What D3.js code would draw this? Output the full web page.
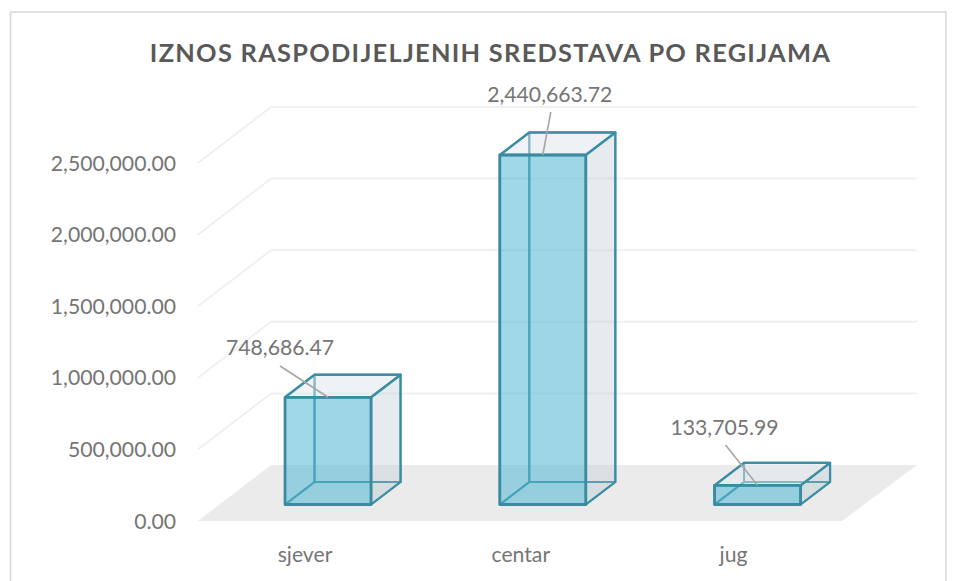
<!DOCTYPE html>
<html><head><meta charset="utf-8">
<script src="https://cdn.jsdelivr.net/npm/d3@7"></script>
<style>html,body{margin:0;padding:0;background:#fff}svg{display:block}text{font-family:Lato,"Open Sans",sans-serif}</style>
</head><body><div id="c"></div>
<script>
const categories = ["sjever","centar","jug"];
const values = [748686.47,2440663.72,133705.99];
const valueLabels = ["748,686.47","2,440,663.72","133,705.99"];
const yTicks = [0,500000,1000000,1500000,2000000,2500000];
const titleText = "IZNOS RASPODIJELJENIH SREDSTAVA PO REGIJAMA";

const W=960,H=581;
const svg=d3.select("#c").append("svg").attr("width",W).attr("height",H);
svg.append("rect").attr("x",10.5).attr("y",12).attr("width",935.5).attr("height",H+10)
  .attr("fill","#fff").attr("stroke","#d9d9d9").attr("stroke-width",1.6);
svg.append("text").attr("x",490.5).attr("y",62).attr("text-anchor","middle")
  .attr("font-size",25.4).attr("font-weight",700).attr("letter-spacing",1.27).attr("fill","#595959").text(titleText);

const y=d3.scaleLinear().domain([0,2500000]).range([521,163]);
const h=v=>y(0)-y(v);
const wall={dx:73,dy:-56}, wallRight=917;
const x=d3.scaleBand().domain(categories).range([220.6,865]).paddingInner(0.5995).paddingOuter(0.3);
const barDepth={dx:29.5,dy:-22.5}, barBase=504.5;
const fx0=198;
svg.append("polygon").attr("fill","#ebebeb")
  .attr("points",[[fx0,y(0)],[fx0+wall.dx,y(0)+wall.dy],[wallRight,y(0)+wall.dy],[wallRight-wall.dx-2,y(0)]].join(" "));
const grid=svg.append("g").attr("fill","none").attr("stroke","#f0f0f0").attr("stroke-width",2);
yTicks.slice(1).forEach(t=>{
  grid.append("polyline").attr("points",[[fx0,y(t)],[fx0+wall.dx,y(t)+wall.dy],[wallRight,y(t)+wall.dy]].join(" "));
});
const labelColor="#757575";
svg.append("g").selectAll("text").data(yTicks).join("text")
  .attr("x",176).attr("y",d=>y(d)+7.5).attr("text-anchor","end").attr("font-size",21.2).attr("fill",labelColor)
  .text(d3.format(",.2f"));
const catShift=[-23,-22,-24];
svg.append("g").selectAll("text").data(categories).join("text")
  .attr("x",(d,i)=>x(d)+x.bandwidth()/2+catShift[i]).attr("y",562)
  .attr("text-anchor","middle").attr("font-size",21.2).attr("fill",labelColor).text(d=>d);
const stroke="#3c8ea4";
categories.forEach((c,i)=>{
  const x0=x(c),x1=x0+x.bandwidth(),yb=barBase,yt=barBase-h(values[i]);
  const dx=barDepth.dx,dy=barDepth.dy;
  const g=svg.append("g").attr("stroke-linejoin","round");
  const poly=(pts,fill,op,st,sw)=>g.append("polygon").attr("points",pts.join(" "))
    .attr("fill",fill).attr("fill-opacity",op).attr("stroke",st||"none").attr("stroke-width",sw||0);
  poly([[x0,yb],[x0+dx,yb+dy],[x1+dx,yb+dy],[x1,yb]],"#c9d6dc",0.3,stroke,2);
  poly([[x0+dx,yb+dy],[x0+dx,yt+dy],[x1+dx,yt+dy],[x1+dx,yb+dy]],"#ccd6dc",0.2,stroke,2);
  poly([[x0,yb],[x0,yt],[x0+dx,yt+dy],[x0+dx,yb+dy]],"#ccd6dc",0.12,stroke,2);
  poly([[x1,yb],[x1,yt],[x1+dx,yt+dy],[x1+dx,yb+dy]],"#b9c8d0",0.26,stroke,2.2);
  poly([[x0,yt],[x0+dx,yt+dy],[x1+dx,yt+dy],[x1,yt]],"#e6ecf0",0.45,stroke,2.4);
  poly([[x0,yb],[x0,yt],[x1,yt],[x1,yb]],"#4fb8d4",0.52,"#3a8aa0",2.8);
});
const labelDx=[-5,50,10], labelBase=[355,102,434.5], leaderEnd=[43,43,43], leaderStartX=[-5,51,11], leaderStartY=[366,112,445];
valueLabels.forEach((t,i)=>{
  const c=categories[i],x0=x(c),yt=barBase-h(values[i]);
  svg.append("line").attr("x1",x0+leaderStartX[i]).attr("y1",leaderStartY[i]).attr("x2",x0+leaderEnd[i]).attr("y2",yt)
    .attr("stroke","#a6a6a6").attr("stroke-width",1.6);
  svg.append("text").attr("x",x0+labelDx[i]).attr("y",labelBase[i]).attr("text-anchor","middle")
    .attr("font-size",21.2).attr("fill",labelColor).text(t);
});
</script></body></html>
